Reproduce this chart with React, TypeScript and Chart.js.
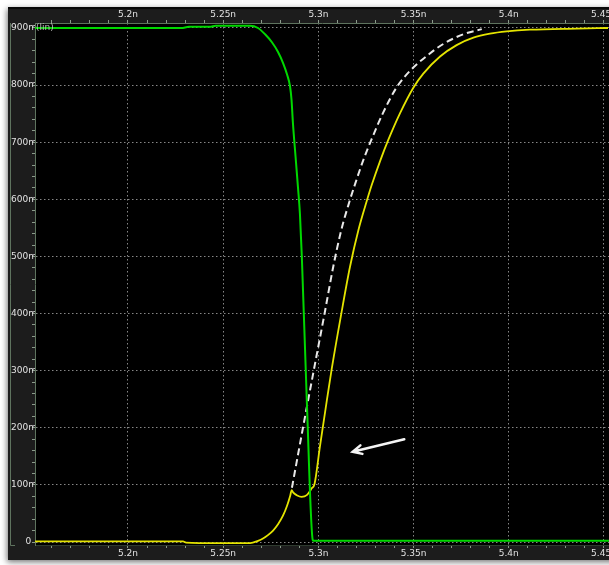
import { useEffect, useRef } from "react";
import { Chart, registerables } from "chart.js";

Chart.register(...registerables);

// ---- axis ranges (ns, mV) ----
const X_MIN = 5.15116;
const X_MAX = 5.45263;
const Y_MIN = -5.25;
const Y_MAX = 908.75;

// ---- ticks ----
const X_TICKS = [
  5.16, 5.17, 5.18, 5.19, 5.2, 5.21, 5.22, 5.23, 5.24, 5.25, 5.26, 5.27, 5.28, 5.29,
  5.3, 5.31, 5.32, 5.33, 5.34, 5.35, 5.36, 5.37, 5.38, 5.39, 5.4, 5.41, 5.42, 5.43,
  5.44, 5.45,
];
const X_MAJOR = [5.2, 5.25, 5.3, 5.35, 5.4, 5.45];
const X_LABELS = ["5.2n", "5.25n", "5.3n", "5.35n", "5.4n", "5.45n"];

const Y_TICKS = [
  0, 20, 40, 60, 80, 100, 120, 140, 160, 180, 200, 220, 240, 260, 280, 300, 320, 340,
  360, 380, 400, 420, 440, 460, 480, 500, 520, 540, 560, 580, 600, 620, 640, 660, 680,
  700, 720, 740, 760, 780, 800, 820, 840, 860, 880, 900,
];
const Y_MAJOR = [0, 100, 200, 300, 400, 500, 600, 700, 800, 900];
const Y_LABELS = ["0  ", "100m", "200m", "300m", "400m", "500m", "600m", "700m", "800m", "900m"];

// ---- input (green) ----
const inTime = [
  5.1512, 5.228, 5.232, 5.243, 5.246, 5.2641, 5.2683, 5.272, 5.2756, 5.2788, 5.2814,
  5.2835, 5.2851, 5.2859, 5.2866, 5.288, 5.2893, 5.2903, 5.2913, 5.2939, 5.297, 5.2974,
  5.4526,
];
const inVolt = [
  900, 900, 902, 902, 904, 904, 900, 889, 875, 858, 839, 819, 798, 774, 735, 675, 620,
  575, 500, 249, 4, 2, 2,
];

// ---- output (yellow) ----
const outTime = [
  5.1512, 5.2289, 5.2305, 5.247, 5.2641, 5.2683, 5.2709, 5.2735, 5.2762, 5.2788, 5.2814,
  5.2835, 5.2852, 5.286, 5.2867, 5.2886, 5.2912, 5.2939, 5.2965, 5.298, 5.3008, 5.3044,
  5.307, 5.3122, 5.3166, 5.321, 5.3254, 5.328, 5.3324, 5.3367, 5.3429, 5.3498, 5.3551,
  5.3639, 5.3726, 5.3814, 5.3901, 5.3989, 5.4111, 5.4357, 5.4521,
];
const outVolt = [
  1, 1, -1, -2, -2, 2, 6, 12, 20, 31, 46, 63, 81, 91, 87, 82, 79, 82, 94, 102, 167, 247,
  303, 403, 482, 546, 597, 625, 667, 704, 751, 795, 820, 850, 870, 883, 890, 894, 897,
  899, 900,
];

// ---- ideal response (white dashed) ----
const idealTime = [
  5.2861, 5.2919, 5.2972, 5.3033, 5.3078, 5.312, 5.3164, 5.3191, 5.3234, 5.3278, 5.3339,
  5.3409, 5.3481, 5.3569, 5.3656, 5.3761, 5.3858,
];
const idealVolt = [
  95, 200, 294, 401, 482, 546, 597, 625, 667, 704, 751, 795, 825, 851, 872, 889, 898,
];

// ---- annotation arrow (data coords) ----
const arrowFrom = [5.3451, 180];
const arrowTo = [5.318, 158];

const FONT = "'DejaVu Sans', sans-serif";
const TEXT = "#e2e2e2";
const AXIS = "#5e735e";
const GRID = "rgba(150,150,150,0.9)";
const CLEAR = "rgba(0,0,0,0)";

const near = (a: number, b: number) => Math.abs(a - b) < 1e-7;
const isXMajor = (v: number) => X_MAJOR.some((m) => near(m, v));
const isYMajor = (v: number) => Y_MAJOR.some((m) => near(m, v));
const xLabel = (v: number) => {
  const i = X_MAJOR.findIndex((m) => near(m, v));
  return i >= 0 ? X_LABELS[i] : "";
};
const yLabel = (v: number) => {
  const i = Y_MAJOR.findIndex((m) => near(m, v));
  return i >= 0 ? Y_LABELS[i] : "";
};

const zip = (t: number[], v: number[]) => t.map((x, i) => ({ x, y: v[i] }));

const framePlugin = {
  id: "frame",
  beforeDraw(chart: any) {
    const { ctx, chartArea: ca } = chart;
    ctx.save();
    ctx.shadowColor = "rgba(0,0,0,0.55)";
    ctx.shadowBlur = 6;
    ctx.shadowOffsetY = 2;
    ctx.shadowOffsetX = -1;
    ctx.fillStyle = "#1c1c1c";
    ctx.fillRect(8, 7, 640, 553);
    ctx.restore();
    ctx.save();
    ctx.fillStyle = "#0a0a0a";
    ctx.fillRect(8, 7, 640, 2);
    ctx.fillStyle = "#000";
    ctx.fillRect(ca.left, ca.top, ca.right - ca.left, ca.bottom - ca.top);
    ctx.strokeStyle = AXIS;
    ctx.lineWidth = 1;
    ctx.beginPath();
    ctx.moveTo(10.5, ca.top);
    ctx.lineTo(10.5, ca.bottom + 0.5);
    ctx.lineTo(15, ca.bottom + 0.5);
    ctx.stroke();
    ctx.restore();
  },
  afterDatasetsDraw(chart: any) {
    const { ctx, scales } = chart;
    const xs = scales.x;
    const ys = scales.y;
    ctx.save();
    // "(lin)" unit marker
    ctx.font = `9px ${FONT}`;
    ctx.fillStyle = "#b8b8b8";
    ctx.textAlign = "left";
    ctx.textBaseline = "middle";
    ctx.fillText("(lin)", chart.chartArea.left + 1, ys.getPixelForValue(900));
    // arrow
    const x1 = xs.getPixelForValue(arrowFrom[0]);
    const y1 = ys.getPixelForValue(arrowFrom[1]);
    const x2 = xs.getPixelForValue(arrowTo[0]);
    const y2 = ys.getPixelForValue(arrowTo[1]);
    const ang = Math.atan2(y1 - y2, x1 - x2);
    ctx.strokeStyle = "#f4f4f4";
    ctx.lineWidth = 2.5;
    ctx.lineCap = "round";
    ctx.beginPath();
    ctx.moveTo(x1, y1);
    ctx.lineTo(x2, y2);
    ctx.moveTo(x2 + 10 * Math.cos(ang + 0.45), y2 + 10 * Math.sin(ang + 0.45));
    ctx.lineTo(x2, y2);
    ctx.lineTo(x2 + 10 * Math.cos(ang - 0.45), y2 + 10 * Math.sin(ang - 0.45));
    ctx.stroke();
    ctx.restore();
  },
};

export default function App() {
  const ref = useRef<HTMLCanvasElement>(null);
  useEffect(() => {
    const tickFont = { family: FONT, size: 9 };
    const setX = (s: any) => {
      s.ticks = X_TICKS.map((v) => ({ value: v }));
    };
    const chart = new Chart(ref.current!, {
      type: "line",
      data: {
        datasets: [
          {
            data: zip(inTime, inVolt),
            borderColor: "#00d800",
            borderWidth: 2,
            pointRadius: 0,
            cubicInterpolationMode: "monotone",
            xAxisID: "x",
            yAxisID: "y",
          },
          {
            data: zip(outTime, outVolt),
            borderColor: "#e4e400",
            borderWidth: 1.8,
            pointRadius: 0,
            cubicInterpolationMode: "monotone",
            xAxisID: "x",
            yAxisID: "y",
          },
          {
            data: zip(idealTime, idealVolt),
            borderColor: "#e8e8e8",
            borderWidth: 2,
            borderDash: [7, 4],
            pointRadius: 0,
            cubicInterpolationMode: "monotone",
            xAxisID: "x",
            yAxisID: "y",
          },
        ],
      } as any,
      options: {
        animation: false,
        responsive: false,
        devicePixelRatio: 1,
        events: [],
        layout: { padding: 0 },
        plugins: { legend: { display: false }, tooltip: { enabled: false } },
        scales: {
          x: {
            type: "linear",
            position: "bottom",
            min: X_MIN,
            max: X_MAX,
            afterBuildTicks: setX,
            afterFit: (s: any) => {
              s.height = 20;
              s.paddingLeft = 0;
              s.paddingRight = 0;
            },
            ticks: {
              autoSkip: false,
              maxRotation: 0,
              minRotation: 0,
              padding: 0,
              color: TEXT,
              font: tickFont,
              callback: (v: any) => xLabel(Number(v)),
            },
            grid: {
              color: (c: any) => (c.tick && isXMajor(c.tick.value) ? GRID : CLEAR),
              tickColor: "#8a9a8a",
              tickLength: 3,
              lineWidth: 1,
            },
            border: { display: true, color: "#2e3a2e", width: 1, dash: [1.5, 2.5] },
          },
          x2: {
            type: "linear",
            position: "top",
            min: X_MIN,
            max: X_MAX,
            afterBuildTicks: setX,
            afterFit: (s: any) => {
              s.height = 23;
              s.paddingLeft = 0;
              s.paddingRight = 0;
            },
            ticks: {
              autoSkip: false,
              maxRotation: 0,
              minRotation: 0,
              padding: 0,
              color: TEXT,
              font: tickFont,
              callback: (v: any) => xLabel(Number(v)),
            },
            grid: {
              drawOnChartArea: false,
              tickColor: "#8a9a8a",
              tickLength: 3,
              lineWidth: 1,
            },
            border: { display: true, color: AXIS, width: 1 },
          },
          y: {
            type: "linear",
            position: "left",
            min: Y_MIN,
            max: Y_MAX,
            afterBuildTicks: (s: any) => {
              s.ticks = Y_TICKS.map((v) => ({ value: v }));
            },
            afterFit: (s: any) => {
              s.width = 35;
              s.paddingTop = 0;
              s.paddingBottom = 0;
            },
            ticks: {
              autoSkip: false,
              padding: -5,
              color: TEXT,
              font: tickFont,
              callback: (v: any) => yLabel(Number(v)),
            },
            grid: {
              color: (c: any) => (c.tick && isYMajor(c.tick.value) ? GRID : CLEAR),
              tickColor: "#8a9a8a",
              tickLength: 3,
              lineWidth: 1,
            },
            border: { display: true, color: AXIS, width: 1, dash: [1.5, 2.5] },
          },
        },
      } as any,
      plugins: [framePlugin],
    });
    return () => chart.destroy();
  }, []);
  return (
    <div style={{ position: "fixed", left: 0, top: 0, width: 609, height: 565 }}>
      <canvas ref={ref} width={609} height={565} style={{ display: "block", width: 609, height: 565 }} />
    </div>
  );
}
